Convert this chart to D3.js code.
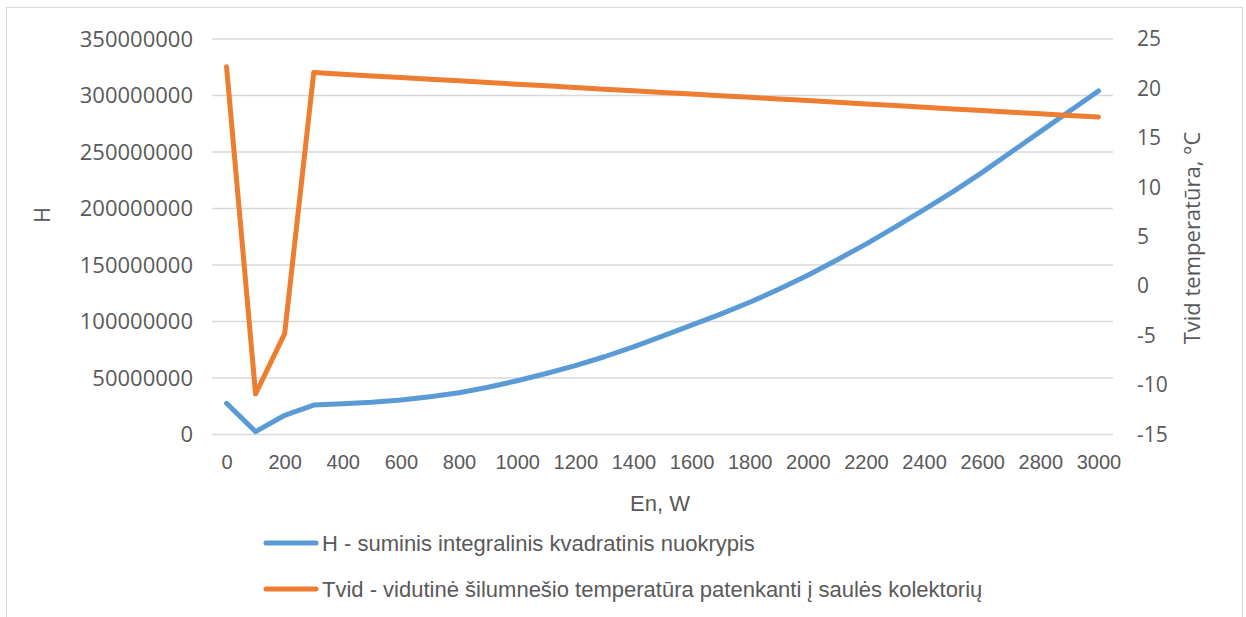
<!DOCTYPE html>
<html>
<head>
<meta charset="utf-8">
<script src="https://cdn.jsdelivr.net/npm/d3@7/dist/d3.min.js"></script>
<style>
  html, body { margin: 0; padding: 0; background: #ffffff; }
  svg { display: block; }
  .wide { font-family: "Open Sans", "DejaVu Sans", sans-serif; }
  .narrow { font-family: "Liberation Sans Narrow", "Arial Narrow", "Liberation Sans", sans-serif; }
</style>
</head>
<body>
<svg id="chart" width="1246" height="617"></svg>
<script>
// Categories along the horizontal axis (En, W)
const categories = [0, 100, 200, 300, 400, 500, 600, 700, 800, 900, 1000,
  1100, 1200, 1300, 1400, 1500, 1600, 1700, 1800, 1900, 2000,
  2100, 2200, 2300, 2400, 2500, 2600, 2700, 2800, 2900, 3000];

// H - total integral squared deviation
const hValues = [27600000, 2500000, 17000000, 26000000, 27300000, 28500000, 30500000,
  33500000, 37000000, 41800000, 47600000, 54000000, 61000000, 68800000, 77500000,
  87000000, 96800000, 106500000, 117000000, 128500000, 141000000, 154500000,
  168500000, 183500000, 199000000, 215000000, 232000000, 250000000, 268000000,
  286000000, 304000000];

// Tvid - mean heat carrier temperature entering the collector, °C
const tvidValues = [22.2, -10.9, -4.8, 21.6, 21.43, 21.27, 21.1, 20.93, 20.77, 20.6,
  20.43, 20.27, 20.1, 19.93, 19.77, 19.6, 19.43, 19.27, 19.1, 18.93, 18.77, 18.6,
  18.43, 18.27, 18.1, 17.93, 17.77, 17.6, 17.43, 17.27, 17.1];

const xTickLabels = [0, 200, 400, 600, 800, 1000, 1200, 1400, 1600, 1800, 2000,
  2200, 2400, 2600, 2800, 3000];
const leftTicks = [0, 50000000, 100000000, 150000000, 200000000, 250000000, 300000000, 350000000];
const rightTicks = [-15, -10, -5, 0, 5, 10, 15, 20, 25];

const seriesNames = [
  "H - suminis integralinis kvadratinis nuokrypis",
  "Tvid - vidutinė šilumnešio temperatūra patenkanti į saulės kolektorių"
];
const colors = ["#5b9bd5", "#ed7d31"];

const svg = d3.select("#chart");
const textColor = "#595959";

// chart frame
svg.append("rect")
  .attr("x", 6.5).attr("y", 7.5)
  .attr("width", 1236).attr("height", 620)
  .attr("fill", "#ffffff")
  .attr("stroke", "#d9d9d9").attr("stroke-width", 1);

const plot = { left: 212, right: 1113, top: 39, bottom: 434.5 };

const x = d3.scalePoint()
  .domain(categories)
  .range([plot.left, plot.right])
  .padding(0.5);

const yLeft = d3.scaleLinear().domain([0, 350000000]).range([plot.bottom, plot.top]);
const yRight = d3.scaleLinear().domain([-15, 25]).range([plot.bottom, plot.top]);

// horizontal gridlines from the left axis
svg.append("g")
  .selectAll("line")
  .data(leftTicks)
  .join("line")
  .attr("x1", plot.left).attr("x2", plot.right)
  .attr("y1", d => yLeft(d)).attr("y2", d => yLeft(d))
  .attr("stroke", "#d9d9d9").attr("stroke-width", 1.5);

// left axis
const leftAxis = svg.append("g")
  .attr("class", "wide")
  .attr("transform", `translate(${plot.left},0)`)
  .call(d3.axisLeft(yLeft).tickValues(leftTicks).tickSize(0).tickPadding(19).tickFormat(d => String(d)));
leftAxis.select(".domain").remove();
leftAxis.selectAll("text").attr("fill", textColor).style("font-size", "22px").attr("font-family", null);

// right axis (plain hyphen for negatives)
const rightAxis = svg.append("g")
  .attr("class", "wide")
  .attr("transform", `translate(${plot.right},0)`)
  .call(d3.axisRight(yRight).tickValues(rightTicks).tickSize(0).tickPadding(24).tickFormat(d => String(d)));
rightAxis.select(".domain").remove();
rightAxis.selectAll("text").attr("fill", textColor).style("font-size", "21px").attr("font-family", null);

// bottom axis
const bottomAxis = svg.append("g")
  .attr("class", "narrow")
  .attr("transform", `translate(0,${plot.bottom})`)
  .call(d3.axisBottom(x).tickValues(xTickLabels).tickSize(0).tickPadding(20));
bottomAxis.select(".domain").remove();
bottomAxis.selectAll("text").attr("fill", textColor).style("font-size", "20px").attr("font-family", null);

// axis titles
svg.append("text")
  .attr("class", "narrow")
  .attr("x", 660).attr("y", 511)
  .attr("text-anchor", "middle")
  .attr("fill", textColor).style("font-size", "22px")
  .text("En, W");

svg.append("text")
  .attr("class", "wide")
  .attr("transform", "translate(50,215) rotate(-90)")
  .attr("text-anchor", "middle")
  .attr("fill", textColor).style("font-size", "21px")
  .text("H");

svg.append("text")
  .attr("class", "wide")
  .attr("transform", "translate(1200,238) rotate(-90)")
  .attr("text-anchor", "middle")
  .attr("fill", textColor).style("font-size", "22px")
  .text("Tvid temperatūra, °C");

// series lines
const lineH = d3.line().x((d, i) => x(categories[i])).y(d => yLeft(d));
const lineT = d3.line().x((d, i) => x(categories[i])).y(d => yRight(d));

svg.append("path")
  .datum(hValues)
  .attr("d", lineH)
  .attr("fill", "none")
  .attr("stroke", colors[0]).attr("stroke-width", 5)
  .attr("stroke-linejoin", "round").attr("stroke-linecap", "round");

svg.append("path")
  .datum(tvidValues)
  .attr("d", lineT)
  .attr("fill", "none")
  .attr("stroke", colors[1]).attr("stroke-width", 5)
  .attr("stroke-linejoin", "round").attr("stroke-linecap", "round");

// legend
const legend = svg.append("g").attr("class", "narrow");
const legendRows = legend.selectAll("g")
  .data(seriesNames)
  .join("g")
  .attr("transform", (d, i) => `translate(266,${543 + i * 46})`);
legendRows.append("line")
  .attr("x1", 0).attr("x2", 50)
  .attr("stroke", (d, i) => colors[i]).attr("stroke-width", 5)
  .attr("stroke-linecap", "round");
legendRows.append("text")
  .attr("x", 56).attr("y", 0).attr("dy", "0.35em")
  .attr("fill", textColor).style("font-size", "22px")
  .text(d => d);
</script>
</body>
</html>
